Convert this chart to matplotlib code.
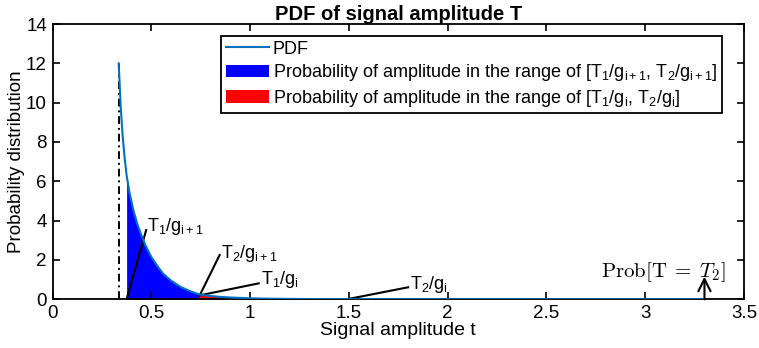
import numpy as np
import matplotlib
matplotlib.use('Agg')
import matplotlib.pyplot as plt

plt.rcParams['font.family'] = ['Liberation Sans', 'DejaVu Sans']
plt.rcParams['mathtext.fontset'] = 'custom'
plt.rcParams['mathtext.rm'] = 'Liberation Sans'
plt.rcParams['mathtext.it'] = 'Liberation Sans:italic'
plt.rcParams['mathtext.bf'] = 'Liberation Sans:bold'

# PDF
t = [0.335, 0.345, 0.355, 0.365, 0.375, 0.39, 0.41, 0.43, 0.45, 0.47, 0.50,
     0.53, 0.56, 0.60, 0.65, 0.70, 0.745, 0.80, 0.85, 0.90, 1.0, 1.1, 1.2,
     1.3, 1.5, 2.0, 2.5, 3.0, 3.3]
pdf = [12.0, 9.8, 8.3, 7.2, 6.3, 5.4, 4.5, 3.8, 3.25, 2.75, 2.15,
       1.7, 1.3, 0.95, 0.62, 0.40, 0.24, 0.17, 0.12, 0.09, 0.05, 0.03, 0.02,
       0.012, 0.006, 0.002, 0.001, 0.0005, 0.0003]
t = np.array(t)
pdf = np.array(pdf)

t_min = 0.335          # dash-dot line
blue_lo, blue_hi = 0.375, 0.745   # T1/g_{i+1}, T2/g_{i+1}
red_lo, red_hi = 0.745, 1.5       # T1/g_i, T2/g_i
t_prob = 3.3

fig = plt.figure(figsize=(7.59, 3.48), dpi=100)
ax = fig.add_axes([0.0692, 0.140, 0.911, 0.791])

matlab_blue = (0, 0.447, 0.741)
ax.plot(t, pdf, color=matlab_blue, lw=1.5, label='PDF', zorder=3)
ax.fill_between(t, pdf, where=(t >= blue_lo) & (t <= blue_hi), color='blue', lw=0,
                label=r'Probability of amplitude in the range of [T$_1$/g$_{\mathrm{i+1}}$, T$_2$/g$_{\mathrm{i+1}}$]')
ax.fill_between(t, pdf, where=(t >= red_lo) & (t <= red_hi), color='red', lw=0,
                label=r'Probability of amplitude in the range of [T$_1$/g$_{\mathrm{i}}$, T$_2$/g$_{\mathrm{i}}$]')
ax.plot([t_min, t_min], [0, 12], color='k', ls=(0, (4, 2, 1, 2)), lw=1.4, zorder=2)

# labels with lines
fs = 13
ax.plot([blue_lo, 0.474], [0, 3.52], 'k', lw=1.5)
ax.text(0.479, 3.47, r'T$_1$/g$_{\mathrm{i+1}}$', fontsize=fs, va='baseline')
ax.plot([blue_hi, 0.846], [0.2, 2.25], 'k', lw=1.5)
ax.text(0.852, 2.1, r'T$_2$/g$_{\mathrm{i+1}}$', fontsize=fs, va='baseline')
ax.plot([blue_hi, 1.044], [0.2, 0.81], 'k', lw=1.5)
ax.text(1.053, 0.78, r'T$_1$/g$_{\mathrm{i}}$', fontsize=fs, va='baseline')
ax.plot([red_hi, 1.80], [0.02, 0.61], 'k', lw=1.5)
ax.text(1.808, 0.5, r'T$_2$/g$_{\mathrm{i}}$', fontsize=fs, va='baseline')

ax.annotate('', xy=(t_prob, 1.15), xytext=(t_prob, 0),
            arrowprops=dict(arrowstyle='->', color='k', lw=1.5, mutation_scale=22,
                            shrinkA=0, shrinkB=0))
ax.text(3.095, 1.12, r'$\mathrm{Prob}[\mathrm{T}\;=\;T_2]$', fontsize=15,
        ha='center', va='baseline', math_fontfamily='cm')

ax.set_xlim(0, 3.5)
ax.set_ylim(0, 14)
ax.set_xticks(np.arange(0, 3.51, 0.5))
ax.set_xticklabels(['0', '0.5', '1', '1.5', '2', '2.5', '3', '3.5'])
ax.set_yticks(np.arange(0, 15, 2))
ax.tick_params(direction='in', top=True, right=True, length=5, width=1.2,
               labelsize=13.5, pad=4)
for s in ax.spines.values():
    s.set_linewidth(1.3)

ax.set_xlabel('Signal amplitude t', fontsize=14, labelpad=0)
ax.set_ylabel('Probability distribution', fontsize=13.5, labelpad=1)
ax.set_title('PDF of signal amplitude T', fontsize=14.5, fontweight='bold', pad=3)

leg = ax.legend(loc='upper right', bbox_to_anchor=(0.968, 0.956), borderaxespad=0,
                fontsize=fs, fancybox=False, edgecolor='k', framealpha=1,
                labelspacing=0.25, handlelength=2.4, handletextpad=0.2,
                borderpad=0.25)
leg.get_frame().set_linewidth(1.3)

fig.savefig('out.png', dpi=100)
